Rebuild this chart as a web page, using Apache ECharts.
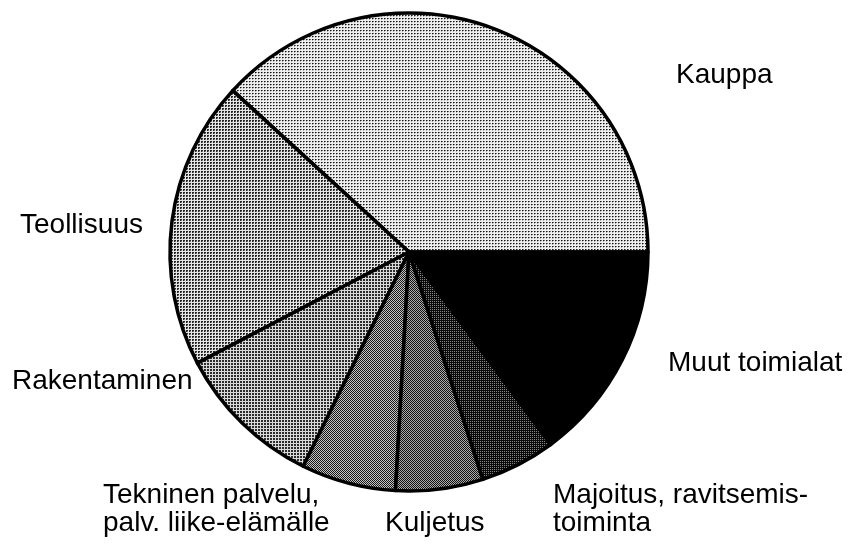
<!DOCTYPE html>
<html>
<head>
<meta charset="utf-8">
<script src="https://cdn.jsdelivr.net/npm/echarts@6/dist/echarts.min.js"></script>
<style>html,body{margin:0;padding:0;background:#fff;}#c{width:856px;height:546px;}</style>
</head>
<body>
<div id="c"></div>
<script>
// Data (shares in percent; counterclockwise from 3 o'clock)
const categories = ['Kauppa', 'Teollisuus', 'Rakentaminen', 'Tekninen palvelu,\npalv. liike-elämälle', 'Kuljetus', 'Majoitus, ravitsemis-\ntoiminta', 'Muut toimialat'];
const shares = [38.2, 19.5, 10.0, 6.4, 5.9, 5.1, 14.9];

// Styling: dither-like tile patterns
function tile(size, bg, cells) {
  const c = document.createElement('canvas');
  c.width = size; c.height = size;
  const g = c.getContext('2d');
  g.fillStyle = bg; g.fillRect(0, 0, size, size);
  cells.forEach(r => { g.fillStyle = r[4]; g.fillRect(r[0], r[1], r[2], r[3]); });
  return { image: c, repeat: 'repeat' };
}
const fills = [
  tile(3, '#eeeeee', [[0,0,1,1,'#141414'],[1,0,1,1,'#707070'],[0,1,1,1,'#b0b0b0']]),
  tile(3, '#e6e6e6', [[0,0,2,1,'#242424'],[0,1,1,1,'#242424'],[1,1,1,1,'#808080']]),
  tile(3, '#dadada', [[0,0,2,2,'#2c2c2c']]),
  tile(2, '#c4c4c4', [[0,0,1,1,'#181818'],[1,1,1,1,'#181818']]),
  tile(2, '#acacac', [[0,0,1,1,'#101010'],[1,1,1,1,'#101010']]),
  tile(2, '#858585', [[0,0,1,1,'#0a0a0a'],[1,1,1,1,'#0a0a0a'],[1,0,1,1,'#0a0a0a']]),
  '#000000'
];
// label anchor points (left edge, vertical middle)
const labelPos = [[676, 75], [20, 225], [12, 381], [103, 509], [385, 523], [553, 509], [668, 363]];

const chart = echarts.init(document.getElementById('c'), null, { renderer: 'canvas' });
chart.setOption({
  animation: false,
  backgroundColor: '#ffffff',
  series: [{
    type: 'pie',
    center: [409, 252],
    radius: [0, 239],
    startAngle: 0,
    clockwise: false,
    avoidLabelOverlap: false,
    silent: true,
    itemStyle: { borderColor: '#000', borderWidth: 3.5 },
    label: {
      show: true,
      position: 'outside',
      color: '#000',
      fontFamily: 'Liberation Sans, Arial, Helvetica, sans-serif',
      fontSize: 28,
      lineHeight: 28,
      formatter: '{b}'
    },
    labelLine: { show: false },
    labelLayout: function (p) {
      const pos = labelPos[p.dataIndex];
      return { x: pos[0], y: pos[1], align: 'left', verticalAlign: 'middle' };
    },
    data: categories.map((name, i) => ({ name: name, value: shares[i], itemStyle: { color: fills[i] } }))
  }]
});
</script>
</body>
</html>
